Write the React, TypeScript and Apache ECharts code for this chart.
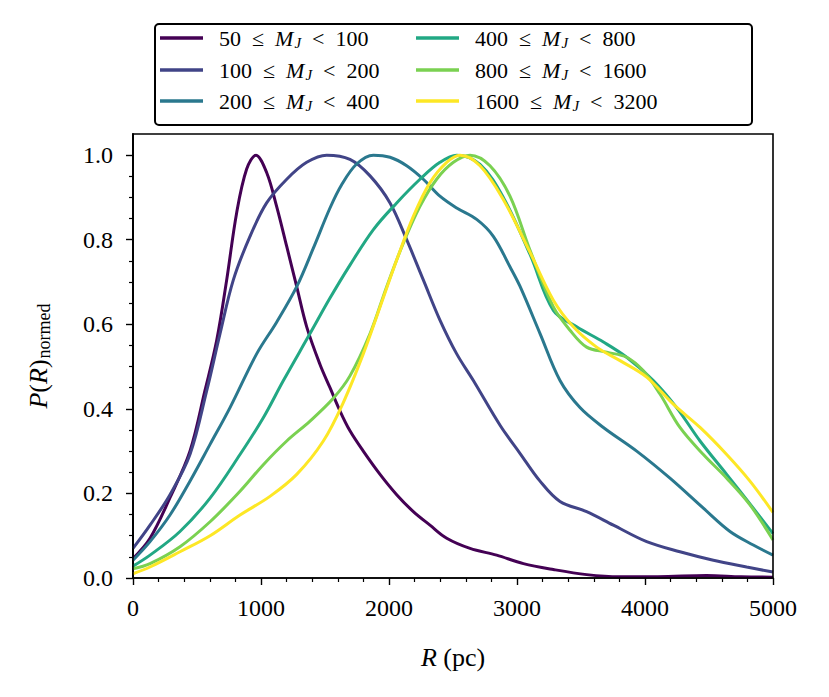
import { useEffect, useRef } from "react";
import * as echarts from "echarts";

// ---------------- data ----------------
const xTickValues = [0, 1000, 2000, 3000, 4000, 5000];
const yTickValues = [0, 0.2, 0.4, 0.6, 0.8, 1.0];
const yMinorTickValues = [0.05, 0.1, 0.15, 0.25, 0.3, 0.35, 0.45, 0.5, 0.55, 0.65, 0.7, 0.75, 0.85, 0.9, 0.95];

const binLow = [50, 100, 200, 400, 800, 1600];
const binHigh = [100, 200, 400, 800, 1600, 3200];
const colors = ["#440154", "#414487", "#2a788e", "#22a884", "#7ad151", "#fde725"];

// 50 <= M_J < 100
const r1 = [0, 133, 289, 445, 562, 654, 732, 810, 888, 961, 1044, 1122, 1201, 1279, 1357, 1461, 1539, 1617, 1695, 1799, 1930, 2060, 2190, 2320, 2451, 2633, 2841, 3050, 3284, 3544, 3800, 4100, 4480, 4750, 5000];
const p1 = [0.046, 0.094, 0.19, 0.3, 0.443, 0.562, 0.705, 0.864, 0.967, 1.0, 0.959, 0.879, 0.784, 0.689, 0.594, 0.505, 0.45, 0.395, 0.348, 0.3, 0.245, 0.197, 0.157, 0.125, 0.094, 0.07, 0.054, 0.034, 0.02, 0.008, 0.003, 0.003, 0.006, 0.003, 0.002];

// 100 <= M_J < 200
const r2 = [0, 133, 289, 445, 576, 680, 784, 914, 1044, 1201, 1357, 1513, 1695, 1852, 2008, 2138, 2268, 2398, 2529, 2659, 2870, 3023, 3180, 3336, 3544, 3753, 4013, 4273, 4534, 4794, 5000];
const p2 = [0.07, 0.125, 0.197, 0.292, 0.443, 0.578, 0.705, 0.808, 0.887, 0.943, 0.983, 1.0, 0.99, 0.951, 0.887, 0.8, 0.705, 0.61, 0.53, 0.467, 0.36, 0.295, 0.229, 0.181, 0.157, 0.125, 0.086, 0.062, 0.042, 0.026, 0.014];

// 200 <= M_J < 400
const r3 = [0, 133, 289, 445, 602, 758, 966, 1122, 1279, 1409, 1539, 1630, 1747, 1878, 2008, 2138, 2268, 2398, 2529, 2685, 2815, 2945, 3023, 3180, 3336, 3492, 3675, 3935, 4195, 4456, 4664, 4846, 5000];
const p3 = [0.042, 0.086, 0.149, 0.229, 0.316, 0.403, 0.53, 0.605, 0.689, 0.78, 0.875, 0.93, 0.979, 1.0, 0.995, 0.975, 0.943, 0.903, 0.875, 0.848, 0.808, 0.736, 0.69, 0.578, 0.467, 0.403, 0.356, 0.3, 0.236, 0.165, 0.11, 0.078, 0.054];

// 400 <= M_J < 800
const r4 = [0, 133, 367, 602, 836, 1018, 1175, 1383, 1539, 1695, 1878, 2060, 2242, 2398, 2529, 2711, 2893, 3102, 3284, 3466, 3675, 3857, 4065, 4247, 4430, 4638, 4846, 5000];
const p4 = [0.028, 0.054, 0.11, 0.189, 0.292, 0.379, 0.467, 0.578, 0.662, 0.74, 0.824, 0.887, 0.943, 0.983, 1.0, 0.978, 0.9, 0.765, 0.633, 0.594, 0.558, 0.522, 0.467, 0.403, 0.324, 0.245, 0.165, 0.105];

// 800 <= M_J < 1600
const r5 = [0, 133, 367, 602, 836, 1018, 1201, 1383, 1565, 1695, 1852, 1982, 2112, 2242, 2372, 2503, 2633, 2789, 2945, 3102, 3284, 3414, 3544, 3701, 3857, 3987, 4117, 4273, 4456, 4638, 4820, 5000];
const p5 = [0.022, 0.034, 0.074, 0.133, 0.205, 0.268, 0.324, 0.371, 0.425, 0.478, 0.578, 0.689, 0.792, 0.879, 0.943, 0.983, 1.0, 0.975, 0.903, 0.775, 0.641, 0.586, 0.546, 0.534, 0.522, 0.49, 0.435, 0.356, 0.292, 0.236, 0.173, 0.09];

// 1600 <= M_J < 3200
const r6 = [0, 133, 367, 602, 836, 1070, 1279, 1487, 1643, 1799, 1930, 2060, 2190, 2320, 2451, 2555, 2711, 2893, 3102, 3284, 3440, 3622, 3805, 4013, 4221, 4430, 4638, 4820, 5000];
const p6 = [0.01, 0.026, 0.062, 0.1, 0.149, 0.193, 0.245, 0.324, 0.415, 0.53, 0.641, 0.752, 0.855, 0.935, 0.983, 1.0, 0.975, 0.895, 0.77, 0.657, 0.594, 0.546, 0.514, 0.475, 0.411, 0.356, 0.292, 0.229, 0.155];

const radii = [r1, r2, r3, r4, r5, r6];
const probs = [p1, p2, p3, p4, p5, p6];

// ---------------- component ----------------
const FONT = "Liberation Serif";

export default function App() {
  const ref = useRef<HTMLDivElement>(null);

  useEffect(() => {
    if (!ref.current) return;
    const chart = echarts.init(ref.current, null, { renderer: "svg" });

    const names = binLow.map((lo, i) => `${lo} ≤ M_J < ${binHigh[i]}`);

    const series = names.map((name, i) => ({
      name,
      type: "line",
      xAxisIndex: 0,
      yAxisIndex: 1,
      data: radii[i].map((r, k) => [r, probs[i][k]]),
      showSymbol: false,
      smooth: 0.35,
      lineStyle: { color: colors[i], width: 3 },
      itemStyle: { color: colors[i] },
      z: 2 + i,
    }));

    const legendRich = {
      t: { fontFamily: FONT, fontSize: 22, color: "#000" },
      m: { fontFamily: FONT, fontSize: 22, fontStyle: "italic", color: "#000" },
      j: { fontFamily: FONT, fontSize: 15, fontStyle: "italic", color: "#000", padding: [10, 0, 0, 1] },
    };
    const rowsY = [40, 72, 103];
    const colsX = [160, 416];
    const legends = names.map((name, i) => ({
      data: [name],
      left: colsX[Math.floor(i / 3)],
      top: rowsY[i % 3] - 13,
      padding: 0,
      itemWidth: 43,
      itemHeight: 3.5,
      icon: "rect",
      itemGap: 0,
      formatter: () => `{t|  ${binLow[i]}  ≤  }{m|M}{j|J}{t|  <  ${binHigh[i]}}`,
      textStyle: { rich: legendRich, fontFamily: FONT, fontSize: 22 },
      selectedMode: false,
    }));

    const option = {
      animation: false,
      backgroundColor: "#fff",
      textStyle: { fontFamily: FONT },
      grid: {
        left: 133,
        right: 56,
        top: 134,
        bottom: 119,
        show: true,
        borderColor: "#000",
        borderWidth: 1.6,
        backgroundColor: "transparent",
        z: 10,
      },
      legend: legends,
      graphic: [
        {
          type: "rect",
          shape: { x: 155, y: 24, width: 597, height: 101, r: 4 },
          style: { fill: "none", stroke: "#000", lineWidth: 2 },
          z: 0,
        },
      ],
      xAxis: [
        {
          type: "value",
          min: 0,
          max: 5000,
          interval: 1000,
          position: "bottom",
          axisLine: { show: true, lineStyle: { color: "#000", width: 1.6 } },
          axisTick: { show: true, length: 7, lineStyle: { color: "#000", width: 1.4 }, customValues: xTickValues },
          minorTick: { show: true, splitNumber: 5, length: 4, lineStyle: { color: "#000", width: 1.2 } },
          splitLine: { show: false },
          axisLabel: {
            fontFamily: FONT,
            fontSize: 24,
            color: "#000",
            margin: 18,
            customValues: xTickValues,
            formatter: (v: number) => String(v),
          },
          name: "{i|R}{r| (pc)}",
          nameLocation: "middle",
          nameGap: 66,
          nameTextStyle: {
            rich: {
              i: { fontFamily: FONT, fontSize: 26, fontStyle: "italic", color: "#000" },
              r: { fontFamily: FONT, fontSize: 26, color: "#000" },
            },
          },
        },
      ],
      yAxis: [
        {
          type: "value",
          min: 0,
          max: 1.05,
          position: "left",
          axisLine: { show: true, lineStyle: { color: "#000", width: 1.6 } },
          axisTick: { show: true, length: 4, lineStyle: { color: "#000", width: 1.2 }, customValues: yMinorTickValues },
          axisLabel: { show: false },
          splitLine: { show: false },
        },
        {
          type: "value",
          min: 0,
          max: 1.05,
          interval: 0.2,
          position: "left",
          axisLine: { show: true, lineStyle: { color: "#000", width: 1.6 } },
          axisTick: { show: true, length: 7, lineStyle: { color: "#000", width: 1.4 }, customValues: yTickValues },
          splitLine: { show: false },
          axisLabel: {
            fontFamily: FONT,
            fontSize: 24,
            color: "#000",
            margin: 20,
            customValues: yTickValues,
            formatter: (v: number) => v.toFixed(1),
          },
          name: "{i|P}{r|(}{i|R}{r|)}{s|normed}",
          nameLocation: "middle",
          nameRotate: 90,
          nameGap: 80,
          nameTextStyle: {
            rich: {
              i: { fontFamily: FONT, fontSize: 26, fontStyle: "italic", color: "#000" },
              r: { fontFamily: FONT, fontSize: 26, color: "#000" },
              s: { fontFamily: FONT, fontSize: 18, color: "#000", padding: [12, 0, 0, 1] },
            },
          },
        },
      ],
      series,
    };

    chart.setOption(option as any);
    return () => chart.dispose();
  }, []);

  return (
    <div
      ref={ref}
      style={{ position: "fixed", left: 0, top: 0, width: 829, height: 697 }}
    />
  );
}
